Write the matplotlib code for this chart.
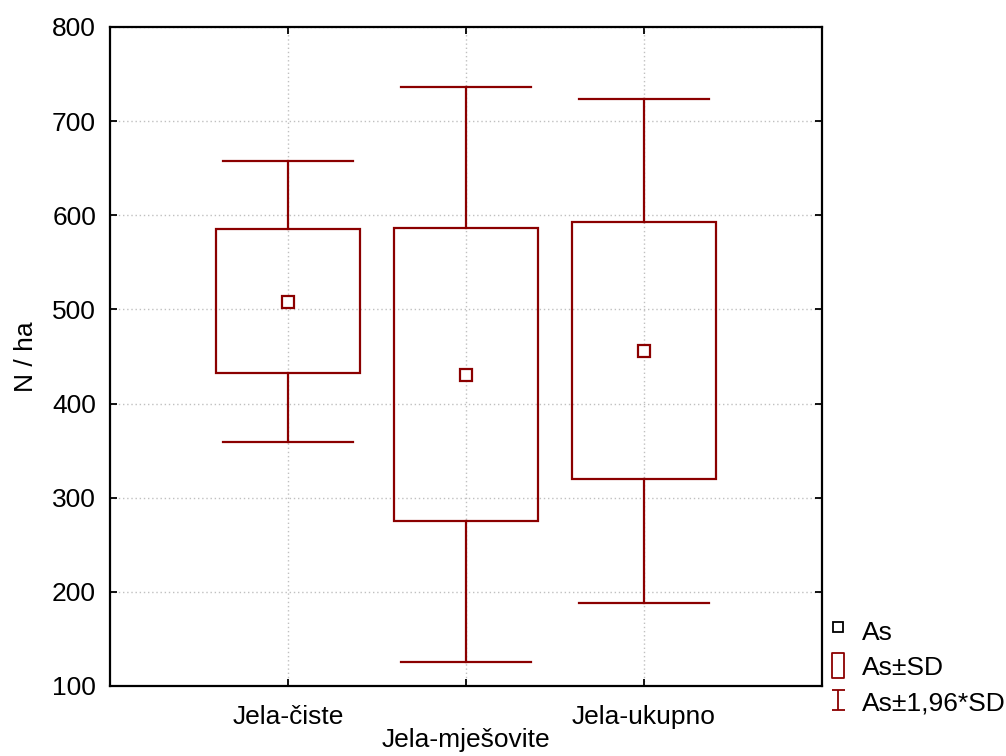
import numpy as np
import matplotlib.pyplot as plt
from matplotlib.lines import Line2D
from matplotlib.patches import Rectangle
from matplotlib.path import Path

plt.rcParams['font.family'] = ['Liberation Sans', 'DejaVu Sans']

groups = ['Jela-čiste', 'Jela-mješovite', 'Jela-ukupno']
mean = [508, 430, 456]
sd_low = [432, 275, 320]
sd_high = [585, 586, 593]
ci_low = [359, 125, 188]
ci_high = [658, 736, 724]

legend_labels = ['As', 'As±SD', 'As±1,96*SD']

red = '#8b0000'
box_w = 0.81
cap_w = 0.73

fig = plt.figure(figsize=(10.06, 7.56), dpi=100)
ax = fig.add_axes([0.1093, 0.0926, 0.7078, 0.8717])

x = np.arange(1, len(groups) + 1)
for xi, m, lo, hi, cl, ch in zip(x, mean, sd_low, sd_high, ci_low, ci_high):
    ax.add_patch(Rectangle((xi - box_w / 2, lo), box_w, hi - lo, fill=False,
                           edgecolor=red, lw=1.6, zorder=3))
    ax.plot([xi, xi], [hi, ch], color=red, lw=1.6, zorder=3)
    ax.plot([xi, xi], [cl, lo], color=red, lw=1.6, zorder=3)
    ax.plot([xi - cap_w / 2, xi + cap_w / 2], [ch, ch], color=red, lw=1.6, zorder=3)
    ax.plot([xi - cap_w / 2, xi + cap_w / 2], [cl, cl], color=red, lw=1.6, zorder=3)
ax.plot(x, mean, ls='none', marker='s', ms=8.5, mfc='white', mec=red, mew=1.6, zorder=4)

ax.set_xlim(0, 4)
ax.set_ylim(100, 800)
ax.set_xticks(x)
ax.set_xticklabels(groups)
ax.set_yticks(np.arange(100, 801, 100))
ax.tick_params(direction='in', length=5, width=1.3, labelsize=19, top=True, right=True, pad=10)
ax.tick_params(axis='x', pad=14)
ax.xaxis.get_major_ticks()[1].set_pad(30)
ax.grid(True, color='#c0c0c0', ls=(0, (1, 2)), lw=1)
ax.set_axisbelow(True)
for s in ax.spines.values():
    s.set_linewidth(1.6)
ax.set_ylabel('N / ha', fontsize=19, labelpad=10)

# legend, placed by hand outside the axes
cap = Path([(-0.65, 1), (0.65, 1), (0, 1), (0, -1), (-0.65, -1), (0.65, -1)],
           [Path.MOVETO, Path.LINETO, Path.MOVETO, Path.LINETO, Path.MOVETO, Path.LINETO])
rect = Path([(-0.5, -1), (0.5, -1), (0.5, 1), (-0.5, 1), (-0.5, -1)],
            [Path.MOVETO, Path.LINETO, Path.LINETO, Path.LINETO, Path.CLOSEPOLY])
styles = [
    dict(marker='s', ms=6.5, mfc='white', mec='black', mew=1.3),
    dict(marker=rect, ms=18, mfc='white', mec=red, mew=1.3),
    dict(marker=cap, ms=14.4, mfc='none', mec=red, mew=1.3),
]
marker_y = [0.1706, 0.1204, 0.0741]
text_y = [0.163, 0.116, 0.069]
for lab, st, my, ty in zip(legend_labels, styles, marker_y, text_y):
    fig.add_artist(Line2D([0.833], [my], ls='none', transform=fig.transFigure, **st))
    fig.text(0.857, ty, lab, fontsize=19, va='center', ha='left')

fig.savefig('out.png', dpi=100)
